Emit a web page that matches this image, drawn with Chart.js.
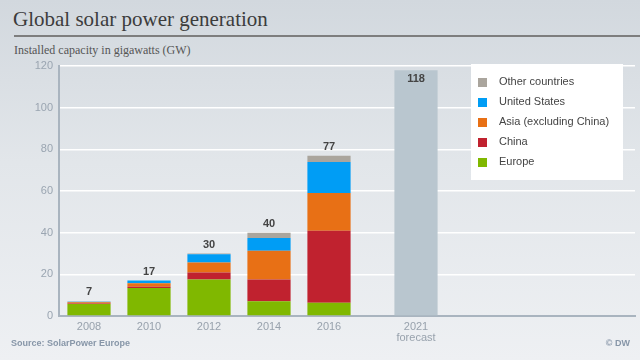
<!DOCTYPE html>
<html><head><meta charset="utf-8">
<script src="https://cdn.jsdelivr.net/npm/chart.js@4.4.1/dist/chart.umd.min.js"></script>
<style>
html,body{margin:0;padding:0;}
body{width:640px;height:360px;overflow:hidden;position:relative;background:linear-gradient(to bottom,#d2d8de 0%,#e2e6ea 45%,#eef0f3 100%);font-family:"Liberation Sans",Arial,sans-serif;}
#title{position:absolute;left:13px;top:7px;font-family:"Liberation Serif",serif;font-size:21px;color:#3c3c3c;white-space:nowrap;}
#rule{position:absolute;left:14px;right:0;top:35px;height:2px;background:#7e7e7e;}
#subtitle{position:absolute;left:14px;top:43px;font-family:"Liberation Serif",serif;font-size:12px;color:#555;white-space:nowrap;}
#source{position:absolute;left:11px;top:338px;font-size:9px;font-weight:bold;color:#8796a8;}
#credit{position:absolute;right:10px;top:338px;font-size:9px;font-weight:bold;color:#8796a8;}
#wrap{position:absolute;left:0;top:0;width:640px;height:360px;}
</style></head>
<body>
<div id="title">Global solar power generation</div>
<div id="rule"></div>
<div id="subtitle">Installed capacity in gigawatts (GW)</div>
<div id="wrap"><canvas id="c" width="640" height="360"></canvas></div>
<div id="source">Source: SolarPower Europe</div>
<div id="credit">© DW</div>
<script>
const categories = ['2008','2010','2012','2014','2016','2021'];
const categoryNotes = ['','','','','','forecast'];
const europe   = [5.8, 13.5, 17.5, 7.1, 6.4, null];
const china    = [0.2, 0.6, 3.4, 10.4, 34.5, null];
const asia     = [0.6, 1.6, 4.8, 13.8, 18.1, null];
const us       = [0.3, 1.3, 4.0, 6.1, 14.9, null];
const other    = [0.1, 0.0, 0.3, 2.6, 3.0, null];
const forecast = [null, null, null, null, null, 118];
const totals   = [7, 17, 30, 40, 77, 118];
const yTicks   = [0, 20, 40, 60, 80, 100, 120];

const FORECAST_OFFSET = 1.45;
const xPos = categories.map((c, i) => i < categories.length - 1 ? i : i - 1 + FORECAST_OFFSET);
const series = vals => vals.map((v, i) => ({x: xPos[i], y: v}));
const SANS = '"Liberation Sans", Arial, sans-serif';

const datasets = [
  {label: 'Europe', data: series(europe), backgroundColor: '#80b800', inLegend: true},
  {label: 'China', data: series(china), backgroundColor: '#c0222f', inLegend: true},
  {label: 'Asia (excluding China)', data: series(asia), backgroundColor: '#e87015', inLegend: true},
  {label: 'United States', data: series(us), backgroundColor: '#009df5', inLegend: true},
  {label: 'Other countries', data: series(other), backgroundColor: '#aaa59d', inLegend: true},
  {label: 'Forecast', data: series(forecast), backgroundColor: '#b9c6cf', inLegend: false}
];

const boxLegend = {
  id: 'boxLegend',
  afterDraw(chart) {
    const ctx = chart.ctx;
    ctx.save();
    ctx.fillStyle = '#ffffff';
    ctx.fillRect(471, 64, 152, 116);
    const items = chart.data.datasets.filter(d => d.inLegend).slice().reverse();
    ctx.font = '11px ' + SANS;
    ctx.textBaseline = 'middle';
    items.forEach((d, k) => {
      const y = 82 + k * 20;
      ctx.fillStyle = d.backgroundColor;
      ctx.fillRect(478, y - 4, 9, 9);
      ctx.fillStyle = '#444';
      ctx.fillText(d.label, 499, y);
    });
    ctx.restore();
  }
};

const totalLabels = {
  id: 'totalLabels',
  afterDatasetsDraw(chart) {
    const ctx = chart.ctx, xs = chart.scales.x, ys = chart.scales.y;
    ctx.save();
    ctx.font = 'bold 11px ' + SANS;
    ctx.fillStyle = '#444';
    ctx.textAlign = 'center';
    ctx.textBaseline = 'middle';
    totals.forEach((t, i) => {
      const x = xs.getPixelForValue(xPos[i]);
      const top = ys.getPixelForValue(t);
      const inside = forecast[i] !== null;
      ctx.fillText(String(t), x, inside ? top + 9 : top - 9);
    });
    ctx.restore();
  }
};

new Chart(document.getElementById('c'), {
  type: 'bar',
  data: {datasets},
  plugins: [boxLegend, totalLabels],
  options: {
    responsive: false,
    devicePixelRatio: 1,
    animation: false,
    barPercentage: 0.8,
    categoryPercentage: 0.9,
    layout: {padding: {left: 0, top: 66, right: 5, bottom: 0}},
    plugins: {legend: {display: false}, tooltip: {enabled: false}},
    scales: {
      x: {
        type: 'linear', min: -0.5, max: 9.1, stacked: true, offset: false,
        grid: {display: false, drawTicks: false},
        border: {display: true, color: '#a9b4bf', width: 2},
        afterBuildTicks: s => { s.ticks = xPos.map(v => ({value: v})); },
        afterFit: s => { s.height = 44; },
        ticks: {
          autoSkip: false, maxRotation: 0, padding: 5, color: '#98a2ad',
          font: {size: 11, family: SANS, lineHeight: 1.0},
          callback: (v, i) => categoryNotes[i] ? [categories[i], categoryNotes[i]] : categories[i]
        }
      },
      y: {
        min: 0, max: 120, stacked: true,
        afterBuildTicks: s => { s.ticks = yTicks.map(v => ({value: v})); },
        afterFit: s => { s.width = 59; },
        grid: {color: '#ffffff', lineWidth: 1.5, drawTicks: false},
        border: {color: '#a9b4bf', width: 2},
        ticks: {padding: 6, color: '#9aa5b1', font: {size: 11, family: SANS}}
      }
    }
  }
});
</script>
</body></html>
